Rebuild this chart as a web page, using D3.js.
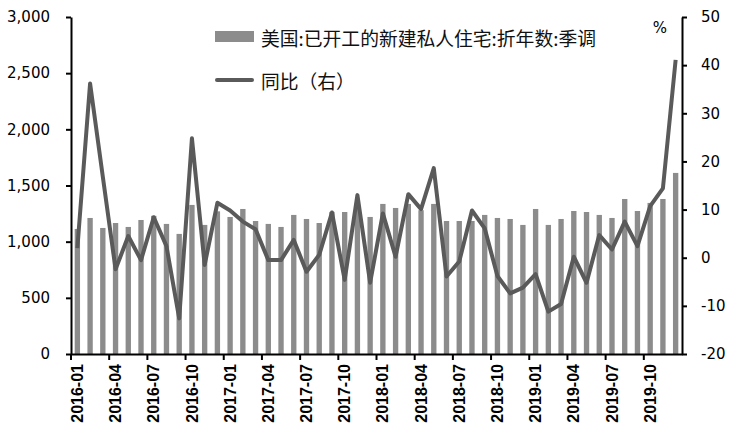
<!DOCTYPE html>
<html>
<head>
<meta charset="utf-8">
<script src="https://cdn.jsdelivr.net/npm/d3@7"></script>
<style>
  body { margin: 0; background: #fff; }
  svg { display: block; }
  .axis text { font-family: "DejaVu Sans", sans-serif; font-size: 15px; fill: #000; }
  .xaxis text { font-family: "Liberation Sans", Arial, sans-serif; font-size: 16px; font-weight: bold; fill: #000; }
  .legend text { font-family: "Noto Sans CJK SC", sans-serif; font-size: 18.8px; fill: #111; }
</style>
</head>
<body>
<svg id="chart"></svg>
<script>
const width = 733;
const height = 434;

// monthly data 2016-01 .. 2019-12
const months = [];
for (let y = 2016; y <= 2019; y++) {
    for (let m = 1; m <= 12; m++) months.push(y + "-" + String(m).padStart(2, "0"));
}

// housing starts, SAAR (thousand units)
const starts = [
    1113, 1211, 1122, 1166, 1131, 1193, 1230, 1158, 1069, 1327, 1149, 1270,
    1220, 1291, 1184, 1158, 1131, 1238, 1202, 1166, 1265, 1264, 1300, 1220,
    1336, 1300, 1336, 1280, 1336, 1184, 1184, 1184, 1238, 1211, 1202, 1149,
    1291, 1149, 1202, 1273, 1264, 1238, 1211, 1380, 1273, 1345, 1380, 1612
];

// YoY %, right axis
const yoy = [
    2.0, 36.2, 16.8, -2.4, 4.5, -0.5, 8.4, 2.4, -12.6, 24.8, -1.5, 11.4,
    9.8, 7.5, 5.9, -0.5, -0.5, 3.7, -2.9, 0.6, 9.4, -4.6, 13.0, -5.2,
    9.2, 0.2, 13.2, 10.1, 18.6, -3.9, -0.8, 9.8, 6.1, -3.8, -7.4, -6.2,
    -3.4, -11.2, -9.6, 0.2, -5.2, 4.7, 1.7, 7.5, 2.4, 10.7, 14.4, 41.1
];

const leftTicks = [0, 500, 1000, 1500, 2000, 2500, 3000];
const rightTicks = [-20, -10, 0, 10, 20, 30, 40, 50];
const xLabels = months.filter((d, i) => i % 3 === 0);

const margin = { left: 71, right: 51, top: 17, bottom: 80 };
const plotRight = width - margin.right;
const plotBottom = height - margin.bottom;

const svg = d3.select("#chart")
    .attr("width", width)
    .attr("height", height);

const x = d3.scaleBand()
    .domain(months)
    .range([margin.left, plotRight])
    .paddingInner(0.58)
    .paddingOuter(0.29);

const yL = d3.scaleLinear().domain([0, 3000]).range([plotBottom, margin.top]);
const yR = d3.scaleLinear().domain([-20, 50]).range([plotBottom, margin.top]);

// bars
svg.append("g")
    .selectAll("rect")
    .data(starts)
    .enter().append("rect")
    .attr("x", (d, i) => x(months[i]))
    .attr("y", d => yL(d))
    .attr("width", x.bandwidth())
    .attr("height", d => yL(0) - yL(d))
    .attr("fill", "#8c8c8c");

// yoy line
const line = d3.line()
    .x((d, i) => x(months[i]) + x.bandwidth() / 2)
    .y(d => yR(d));

svg.append("path")
    .datum(yoy)
    .attr("d", line)
    .attr("fill", "none")
    .attr("stroke", "#5a5a5a")
    .attr("stroke-width", 4)
    .attr("stroke-linejoin", "round");

// left axis
const gL = svg.append("g")
    .attr("class", "axis")
    .attr("transform", `translate(${margin.left},0)`)
    .call(d3.axisLeft(yL).tickValues(leftTicks).tickFormat(d3.format(",")).tickSize(5).tickSizeOuter(0).tickPadding(16));

// right axis (plain hyphen for negatives, as in the original)
const gR = svg.append("g")
    .attr("class", "axis")
    .attr("transform", `translate(${plotRight},0)`)
    .call(d3.axisRight(yR).tickValues(rightTicks).tickFormat(d => String(d)).tickSize(5).tickSizeOuter(0).tickPadding(14));

[gL, gR].forEach(g => {
    g.select(".domain").attr("stroke", "#000").attr("stroke-width", 2);
    g.selectAll(".tick line").attr("stroke", "#000").attr("stroke-width", 2);
});

// bottom axis: labels at band centres, ticks at category boundaries
const gX = svg.append("g")
    .attr("class", "xaxis")
    .attr("transform", `translate(0,${plotBottom})`)
    .call(d3.axisBottom(x).tickValues(xLabels).tickSize(0).tickSizeOuter(0));

gX.select(".domain").attr("stroke", "#000").attr("stroke-width", 2);

gX.selectAll(".tick line")
    .attr("x1", -x.step() / 2).attr("x2", -x.step() / 2)
    .attr("y1", 0).attr("y2", 6)
    .attr("stroke", "#000").attr("stroke-width", 2);

gX.selectAll(".tick text")
    .attr("transform", "rotate(-90)")
    .attr("x", -10)
    .attr("y", 0)
    .attr("dy", "0.35em")
    .attr("text-anchor", "end");

// % unit label
svg.append("text")
    .attr("x", 660)
    .attr("y", 28)
    .attr("text-anchor", "middle")
    .attr("dominant-baseline", "central")
    .style("font-family", "DejaVu Sans, sans-serif")
    .style("font-size", "15px")
    .text("%");

// legend
const legend = svg.append("g").attr("class", "legend");
legend.append("rect")
    .attr("x", 215).attr("y", 31)
    .attr("width", 39).attr("height", 11)
    .attr("fill", "#8c8c8c");
legend.append("text")
    .attr("x", 261).attr("y", 37)
    .attr("dominant-baseline", "central")
    .text("美国:已开工的新建私人住宅:折年数:季调");
legend.append("line")
    .attr("x1", 217).attr("x2", 252)
    .attr("y1", 80).attr("y2", 80)
    .attr("stroke", "#5a5a5a")
    .attr("stroke-width", 4)
    .attr("stroke-linecap", "round");
legend.append("text")
    .attr("x", 261).attr("y", 80)
    .attr("dominant-baseline", "central")
    .text("同比（右）");
</script>
</body>
</html>
